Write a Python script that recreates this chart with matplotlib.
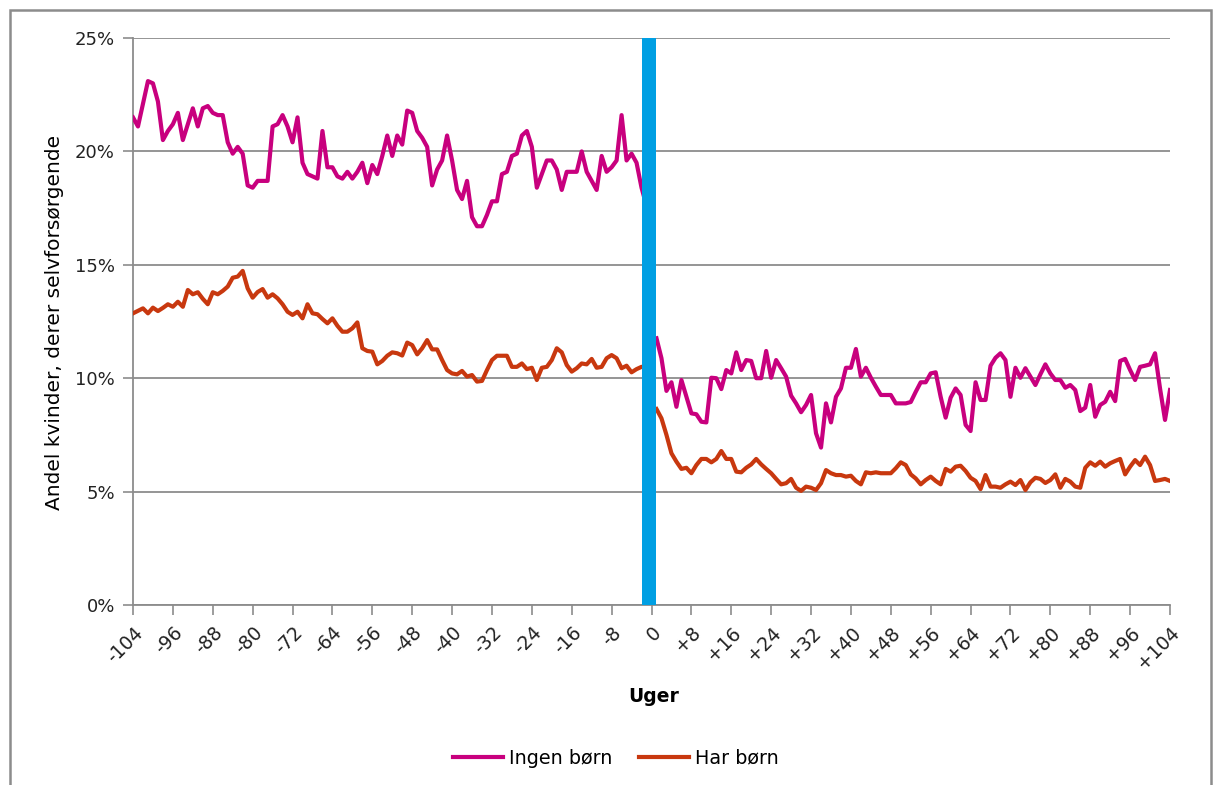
import numpy as np
import matplotlib
matplotlib.use("Agg")
import matplotlib.pyplot as plt
from matplotlib.patches import Rectangle

# weeks before / after the event (week 0 itself has no value)
weeks_before = list(range(-104, 0))
weeks_after = list(range(1, 105))

# share of women who are self-supporting (%), no children
ingen_before = [
    21.5, 21.1, 22.1, 23.1, 23.0, 22.2, 20.5, 20.9,
    21.2, 21.7, 20.5, 21.2, 21.9, 21.1, 21.9, 22.0,
    21.7, 21.6, 21.6, 20.4, 19.9, 20.2, 19.9, 18.5,
    18.4, 18.7, 18.7, 18.7, 21.1, 21.2, 21.6, 21.1,
    20.4, 21.5, 19.5, 19.0, 18.9, 18.8, 20.9, 19.3,
    19.3, 18.9, 18.8, 19.1, 18.8, 19.1, 19.5, 18.6,
    19.4, 19.0, 19.8, 20.7, 19.8, 20.7, 20.3, 21.8,
    21.7, 20.9, 20.6, 20.2, 18.5, 19.2, 19.6, 20.7,
    19.6, 18.3, 17.9, 18.7, 17.1, 16.7, 16.7, 17.2,
    17.8, 17.8, 19.0, 19.1, 19.8, 19.9, 20.7, 20.9,
    20.2, 18.4, 19.0, 19.6, 19.6, 19.2, 18.3, 19.1,
    19.1, 19.1, 20.0, 19.1, 18.7, 18.3, 19.8, 19.1,
    19.3, 19.6, 21.6, 19.6, 19.9, 19.5, 18.4, 17.6,
]
ingen_after = [
    11.76, 10.88, 9.44, 9.82, 8.74, 9.92, 9.18, 8.45,
    8.41, 8.08, 8.05, 10.02, 10.0, 9.52, 10.36, 10.21,
    11.14, 10.36, 10.8, 10.76, 10.0, 10.0, 11.2, 10.02,
    10.8, 10.44, 10.07, 9.23, 8.89, 8.5, 8.82, 9.26,
    7.57, 6.94, 8.89, 8.05, 9.18, 9.55, 10.46, 10.46,
    11.29, 10.07, 10.46, 10.02, 9.63, 9.26, 9.26, 9.26,
    8.89, 8.89, 8.89, 8.95, 9.4, 9.82, 9.82, 10.21,
    10.26, 9.18, 8.26, 9.14, 9.55, 9.26, 7.94, 7.67,
    9.82, 9.04, 9.04, 10.55, 10.9, 11.1, 10.8, 9.18,
    10.46, 10.02, 10.44, 10.07, 9.7, 10.17, 10.61, 10.21,
    9.92, 9.92, 9.58, 9.7, 9.48, 8.55, 8.7, 9.7,
    8.3, 8.82, 8.96, 9.4, 8.99, 10.76, 10.85, 10.36,
    9.92, 10.5, 10.55, 10.61, 11.1, 9.55, 8.16, 9.48,
]

# with children
har_before = [
    12.86, 12.97, 13.08, 12.86, 13.11, 12.96, 13.1, 13.26,
    13.15, 13.37, 13.15, 13.89, 13.7, 13.79, 13.5, 13.26,
    13.79, 13.7, 13.85, 14.04, 14.43, 14.48, 14.73, 13.96,
    13.55, 13.8, 13.93, 13.55, 13.7, 13.52, 13.26, 12.93,
    12.79, 12.93, 12.64, 13.26, 12.86, 12.82, 12.61, 12.42,
    12.64, 12.31, 12.05, 12.05, 12.2, 12.46, 11.32, 11.2,
    11.17, 10.61, 10.76, 10.99, 11.14, 11.1, 11.0, 11.57,
    11.46, 11.05, 11.32, 11.68, 11.27, 11.27, 10.8, 10.36,
    10.21, 10.17, 10.32, 10.07, 10.14, 9.85, 9.88, 10.36,
    10.8, 10.99, 10.99, 10.99, 10.5, 10.5, 10.65, 10.4,
    10.46, 9.92, 10.46, 10.5, 10.8, 11.32, 11.14, 10.58,
    10.29, 10.44, 10.65, 10.61, 10.85, 10.46, 10.5, 10.88,
    11.02, 10.88, 10.44, 10.55, 10.26, 10.4, 10.5, 10.5,
]
har_after = [
    8.64, 8.23, 7.5, 6.69, 6.32, 6.0, 6.05, 5.81,
    6.17, 6.44, 6.44, 6.29, 6.44, 6.79, 6.44, 6.44,
    5.88, 5.85, 6.05, 6.2, 6.44, 6.2, 6.0, 5.81,
    5.56, 5.32, 5.37, 5.56, 5.17, 5.03, 5.22, 5.17,
    5.07, 5.37, 5.95, 5.81, 5.73, 5.73, 5.66, 5.7,
    5.47, 5.32, 5.85, 5.81, 5.85, 5.81, 5.81, 5.81,
    6.03, 6.29, 6.17, 5.76, 5.58, 5.32, 5.51, 5.66,
    5.47, 5.32, 6.0, 5.88, 6.1, 6.14, 5.91, 5.61,
    5.47, 5.11, 5.73, 5.22, 5.22, 5.17, 5.32, 5.44,
    5.29, 5.51, 5.07, 5.41, 5.61, 5.56, 5.38, 5.51,
    5.76, 5.17, 5.56, 5.44, 5.22, 5.17, 6.05, 6.29,
    6.14, 6.32, 6.1, 6.25, 6.35, 6.44, 5.76, 6.1,
    6.39, 6.17, 6.54, 6.17, 5.47, 5.51, 5.56, 5.47,
]

tick_weeks = list(range(-104, 105, 8))
tick_labels = [f"+{w}" if w > 0 else str(w) for w in tick_weeks]

# marker for the event itself
event_week = -0.5
event_width = 2.8

c_ingen = "#C8007E"
c_har = "#C8380F"
c_event = "#009FE3"
c_grid = "#8C8C8C"

plt.rcParams["font.family"] = ["DejaVu Sans"]

fig = plt.figure(figsize=(12.14, 7.85), dpi=100)
ax = fig.add_axes([133 / 1214, 1 - 605 / 785, (1170 - 133) / 1214, (605 - 38) / 785])

weeks = weeks_before + [0] + weeks_after
ingen = ingen_before + [np.nan] + ingen_after
har = har_before + [np.nan] + har_after

ax.plot(weeks, ingen, color=c_ingen, lw=3.0, label="Ingen børn", zorder=3)
ax.plot(weeks, har, color=c_har, lw=3.0, label="Har børn", zorder=3)
ax.bar(event_week, 25, width=event_width, color=c_event, zorder=4)

ax.set_xlim(-104, 104)
ax.set_ylim(0, 25)
ax.set_yticks([0, 5, 10, 15, 20, 25])
ax.set_yticklabels(["0%", "5%", "10%", "15%", "20%", "25%"], fontsize=13, color="#222222")
ax.set_xticks(tick_weeks)
ax.set_xticklabels(tick_labels, fontsize=13.5, rotation=45, ha="right",
                   rotation_mode="anchor", color="#222222")
ax.tick_params(axis="both", length=7, width=1.2, color=c_grid, pad=6)
ax.grid(axis="y", color=c_grid, lw=1.3)
ax.set_axisbelow(True)
for side in ["top", "right"]:
    ax.spines[side].set_visible(False)
for side in ["left", "bottom"]:
    ax.spines[side].set_color(c_grid)
    ax.spines[side].set_linewidth(1.3)

fig.text(654 / 1214, 1 - 697 / 785, "Uger", fontsize=13.5, fontweight="bold",
         ha="center", va="center")
fig.text(55 / 1214, 1 - 322 / 785, "Andel kvinder, derer selvforsørgende",
         fontsize=14.5, rotation=90, ha="center", va="center")

fig.legend(loc="center", bbox_to_anchor=(616 / 1214, 1 - 758 / 785), ncol=2,
           frameon=False, fontsize=13.8, handlelength=2.6, handletextpad=0.3,
           columnspacing=1.4)

fig.add_artist(Rectangle((10 / 1214, -0.02), (1211 - 10) / 1214, 1 - 10 / 785 + 0.02,
                         transform=fig.transFigure, fill=False,
                         edgecolor="#8C8C8C", lw=1.8))

fig.savefig("out.png", dpi=100)
